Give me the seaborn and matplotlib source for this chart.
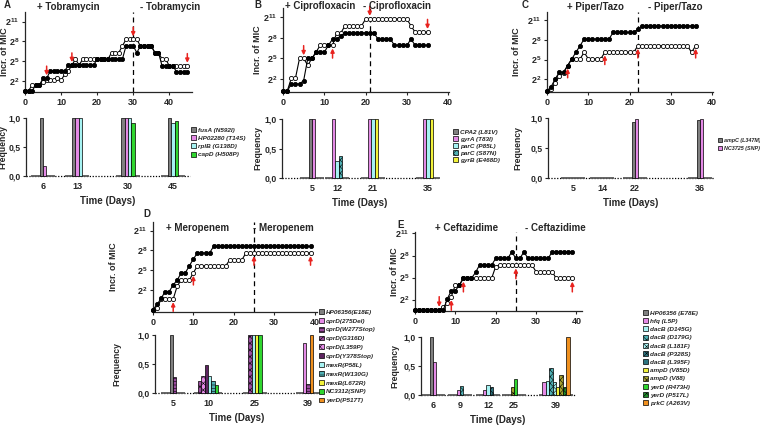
import matplotlib
matplotlib.use("Agg")
import matplotlib.pyplot as plt
from matplotlib.patches import Patch
import seaborn as sns

sns.set_style("ticks")
plt.rcParams["font.family"] = ["Liberation Sans", "DejaVu Sans"]
plt.rcParams["font.weight"] = "bold"
plt.rcParams["axes.labelweight"] = "bold"
plt.rcParams["mathtext.fontset"] = "custom"
plt.rcParams["mathtext.rm"] = "Liberation Sans:bold"
plt.rcParams["mathtext.bf"] = "Liberation Sans:bold"
plt.rcParams["mathtext.it"] = "Liberation Sans:bold:italic"
plt.rcParams["hatch.linewidth"] = 0.4

# ------------------------------------------------------------------ data
# MIC increase (log2 units) per day; filled = lineage 1, open = lineage 2
A_drug = "Tobramycin"
A_days = list(range(46))
A_filled = [0.54, 0.54, 0.54, 1.4, 1.4, 2.4, 2.4, 3.5, 3.5, 3.5, 3.5, 3.5,
            4.4, 4.4, 4.4, 4.4, 4.4, 4.4, 4.4, 4.4, 5.3, 5.3, 5.3, 5.3, 5.3,
            5.3, 5.3, 5.3, 7.3, 7.3, 7.3, 6.3, 7.3, 7.3, 7.3, 7.3, 6.3, 6.3,
            4.3, 4.3, 4.3, 4.3, 3.4, 3.4, 3.4, 3.4]
A_open = [0.54, 0.54, 1.4, 1.4, 1.4, 1.9, 2.1, 2.1, 2.1, 2.5, 2.1, 3.0, 3.5,
          4.4, 5.3, 4.4, 5.3, 5.3, 5.3, 5.3, 5.3, 5.3, 5.3, 5.3, 6.3, 6.3,
          6.3, 7.3, 8.3, 8.3, 8.3, 8.3, 7.3, 7.3, 7.3, 7.3, 6.3, 6.3, 5.3,
          5.3, 4.3, 4.3, 4.3, 4.3, 4.3, 4.3]
A_switch = 30
A_arrow_days = [6, 13, 30, 45]
A_arrow_dirs = ["down", "down", "down", "down"]
A_bar_days = [6, 13, 30, 45]
A_mutations = ["fusA (N592I)", "HP02280 (T14S)", "rplB (G138D)", "capD (H508P)"]
A_freq = [[1.0, 1.0, 1.0, 1.0],
          [0.17, 1.0, 1.0, 0.0],
          [0.0, 1.0, 1.0, 0.92],
          [0.0, 0.0, 0.92, 0.95]]

B_drug = "Ciprofloxacin"
B_days = list(range(36))
B_filled = [0.24, 0.24, 1.3, 1.3, 1.3, 1.8, 5.0, 5.0, 5.9, 5.9, 5.9, 6.9, 7.8,
            7.8, 8.3, 8.7, 8.7, 8.7, 8.7, 8.7, 8.7, 8.7, 8.7, 7.8, 7.8, 7.8,
            7.8, 6.9, 6.9, 6.9, 6.9, 7.8, 6.9, 6.9, 6.9, 6.9]
B_open = [0.24, 0.24, 2.1, 2.1, 5.0, 5.0, 4.0, 5.0, 5.9, 6.9, 6.9, 6.9, 6.9,
          8.7, 8.7, 9.7, 9.7, 9.7, 9.7, 9.7, 10.7, 10.7, 10.7, 10.7, 10.7,
          10.7, 10.7, 10.7, 10.7, 10.7, 10.7, 9.7, 8.8, 8.8, 8.8, 8.8]
B_switch = 21
B_arrow_days = [5, 12, 21, 35]
B_arrow_dirs = ["down", "up", "down", "down"]
B_bar_days = [5, 12, 21, 35]
B_mutations = ["CPA2 (L81V)", "gyrA (T83I)", "parC (P85L)", "parC (S87N)", "gyrB (E468D)"]
B_freq = [[1.0, 0.0, 0.0, 0.0],
          [1.0, 1.0, 1.0, 1.0],
          [0.0, 0.28, 1.0, 1.0],
          [0.0, 0.37, 0.0, 0.0],
          [0.0, 0.0, 1.0, 1.0]]

C_drug = "Piper/Tazo"
C_days = list(range(37))
C_filled = [0.25, 0.9, 2.1, 3.1, 3.1, 4.1, 5.1, 6.1, 7.1, 8.1, 8.1, 8.1, 8.1,
            8.1, 8.1, 8.1, 9.1, 9.1, 9.1, 9.1, 9.1, 9.1, 9.6, 10.1, 10.1,
            10.1, 10.1, 10.1, 10.1, 10.1, 10.1, 10.1, 10.1, 10.1, 10.1, 10.1,
            10.1]
C_open = [0.25, 0.5, 1.5, 2.5, 3.0, 4.1, 5.1, 5.1, 5.1, 6.1, 5.1, 5.1, 5.1,
          5.1, 6.1, 6.1, 6.1, 6.1, 6.1, 6.1, 6.1, 6.1, 7.1, 7.1, 7.1, 7.1,
          7.1, 7.1, 7.1, 7.1, 7.1, 7.1, 7.1, 7.1, 7.1, 6.1, 7.1]
C_switch = 22
C_arrow_days = [5, 14, 22, 36]
C_arrow_dirs = ["up", "up", "up", "up"]
C_bar_days = [5, 14, 22, 36]
C_mutations = ["ampC (L347M)", "NC3725 (SNP)"]
C_freq = [[0.0, 0.0, 0.93, 0.97],
          [0.0, 0.0, 0.98, 0.98]]

D_drug = "Meropenem"
D_days = list(range(40))
D_filled = [-1.0, -0.2, 0.7, 1.75, 1.75, 2.75, 3.5, 4.6, 4.6, 5.65, 6.7, 7.6,
            7.6, 7.6, 7.6, 8.6, 8.6, 8.6, 8.6, 8.6, 8.6, 8.6, 8.6, 8.6, 8.6,
            8.6, 8.6, 8.6, 8.6, 8.6, 8.6, 8.6, 8.6, 8.6, 8.6, 8.6, 8.6, 8.6,
            8.6, 8.6]
D_open = [-1.0, -0.8, 0.6, 0.6, 0.6, 0.6, 2.6, 3.5, 3.5, 3.5, 4.6, 5.65, 5.65,
          5.65, 5.65, 5.65, 5.65, 5.65, 5.65, 6.55, 6.55, 6.55, 6.55, 7.6, 7.6,
          7.6, 7.6, 7.6, 7.6, 7.6, 7.6, 7.6, 7.6, 7.6, 7.6, 7.6, 7.6, 7.6,
          7.6, 7.6]
D_switch = 25
D_arrow_days = [5, 10, 25, 39]
D_arrow_dirs = ["up", "up", "up", "up"]
D_bar_days = [5, 10, 25, 39]
D_mutations = ["HP06356(E18E)", "oprD(275Del)", "oprD(W277Stop)", "oprD(G316D)",
               "oprD(L359P)", "oprD(Y378Stop)", "mexR(P58L)", "mexR(W130G)",
               "mexB(L672R)", "NC3312(SNP)", "yerD(P517T)"]
D_freq = [[1.0, 0.0, 0.0, 0.0],
          [0.0, 0.0, 0.0, 0.86],
          [0.28, 0.0, 0.0, 0.15],
          [0.0, 0.21, 1.0, 0.0],
          [0.0, 0.30, 0.0, 0.0],
          [0.0, 0.48, 0.0, 0.0],
          [0.0, 0.29, 1.0, 0.0],
          [0.0, 0.20, 0.0, 0.0],
          [0.0, 0.0, 1.0, 0.0],
          [0.0, 0.14, 1.0, 0.0],
          [0.0, 0.0, 0.0, 1.0]]

E_drug = "Ceftazidime"
E_days = list(range(40))
E_filled = [0.55, 0.55, 0.55, 0.55, 0.55, 0.55, 0.55, 0.55, 2.1, 3.2, 3.2, 4.0,
            4.9, 4.9, 4.9, 5.7, 6.7, 6.7, 6.7, 6.7, 7.6, 7.6, 7.6, 7.6, 8.5,
            7.6, 7.6, 8.5, 7.6, 7.6, 7.6, 7.6, 7.6, 7.6, 8.5, 8.5, 8.5, 8.5,
            8.5, 8.5]
E_open = [0.55, 0.55, 0.55, 0.55, 0.55, 0.55, 0.55, 1.0, 1.5, 2.4, 4.0, 4.0,
          4.9, 4.9, 4.9, 4.9, 4.9, 4.9, 4.9, 4.9, 6.5, 6.7, 6.7, 6.7, 6.7,
          6.7, 6.7, 6.7, 6.7, 6.7, 5.8, 5.8, 5.8, 5.8, 5.8, 4.9, 4.9, 4.9,
          4.9, 4.9]
E_switch = 25
E_arrow_days = [6, 9, 12, 25, 39]
E_arrow_dirs = ["down", "up", "up", "up", "up"]
E_bar_days = [6, 9, 12, 25, 39]
E_mutations = ["HP06356 (E78E)", "hfq (L5P)", "dacB (D145G)", "dacB (D179G)",
               "dacB (L181F)", "dacB (P328S)", "dacB (L395F)", "ampD (V85D)",
               "ampD (V88)", "yerD (R473H)", "yerD (P517L)", "prkC (A263V)"]
E_freq = [[1.0, 0.0, 0.0, 0.0, 0.0],
          [0.57, 0.08, 0.08, 0.0, 0.23],
          [0.0, 0.0, 0.17, 0.0, 0.25],
          [0.0, 0.15, 0.0, 0.0, 0.47],
          [0.0, 0.0, 0.0, 0.0, 0.23],
          [0.0, 0.0, 0.13, 0.0, 0.0],
          [0.0, 0.0, 0.0, 0.0, 0.0],
          [0.0, 0.0, 0.0, 0.0, 0.14],
          [0.0, 0.0, 0.0, 0.13, 0.35],
          [0.0, 0.0, 0.0, 0.28, 0.0],
          [0.0, 0.0, 0.0, 0.0, 0.14],
          [0.0, 0.0, 0.0, 0.0, 1.0]]

# ------------------------------------------------------------------ styles
GRAY = "#808080"; PINK = "#e48ae6"; CYAN = "#a6f2f2"; GREEN = "#2fd62f"
TEAL = "#4fb0b4"; YELLOW = "#f2f23a"; ORANGE = "#f0901e"; PURPLE = "#9a4a9e"
DPURPLE = "#5e2460"; OLIVE = "#a6a22e"; DGREEN = "#1f8c2a"; DTEAL = "#2c7480"

A_styles = [(GRAY, ""), (PINK, ""), (CYAN, ""), (GREEN, "")]
B_styles = [(GRAY, ""), (PINK, ""), (CYAN, ""), (TEAL, "xxxxx"), (YELLOW, "")]
C_styles = [(GRAY, ""), (PINK, "")]
D_styles = [(GRAY, ""), (PINK, ""), (PURPLE, "-----"), (PURPLE, "xxxxx"),
            (PINK, "xxxxx"), (DPURPLE, ""), (CYAN, ""), (TEAL, "-----"),
            (YELLOW, ""), (GREEN, ""), (ORANGE, "")]
E_styles = [(GRAY, ""), (PINK, ""), (CYAN, ""), (TEAL, "xxxxx"), (CYAN, "xxxxx"),
            (DTEAL, "xxxxx"), (DTEAL, ""), (YELLOW, ""), (OLIVE, "xxxxx"),
            (GREEN, ""), (DGREEN, "xxxxx"), (ORANGE, "")]

# ------------------------------------------------------------------ layout (pixels)
W, H = 760, 425
fig = plt.figure(figsize=(W / 100, H / 100), dpi=100)


def px_axes(left, top, right, bottom):
    return fig.add_axes([left / W, 1 - bottom / H, (right - left) / W, (bottom - top) / H])


def ftext(x, y, s, **kw):
    fig.text(x / W, 1 - y / H, s, **kw)


RED = "#e8231f"


def draw_mic(ax, days, filled, opened, switch, arrow_days, arrow_dirs, xlim, ylim):
    sns.lineplot(x=days, y=opened, ax=ax, color="k", lw=0.8, marker="o", ms=3.0,
                 mfc="white", mec="k", mew=0.6, clip_on=False, zorder=3, errorbar=None)
    sns.lineplot(x=days, y=filled, ax=ax, color="k", lw=0.8, marker="o", ms=3.0,
                 mfc="k", mec="k", mew=0.6, clip_on=False, zorder=4, errorbar=None)
    ax.axvline(switch, color="k", ls=(0, (4, 3)), lw=0.9, zorder=1)
    for d, direc in zip(arrow_days, arrow_dirs):
        i = days.index(d)
        if direc == "down":
            tip = max(filled[i], opened[i]) + 0.45
            tail = tip + 1.4
        else:
            tip = min(filled[i], opened[i]) - 0.45
            tail = tip - 1.4
        ax.annotate("", xy=(d, tip), xytext=(d, tail), annotation_clip=False,
                    arrowprops=dict(arrowstyle="-|>", color=RED, lw=1.1,
                                    mutation_scale=5.5, shrinkA=0, shrinkB=0), zorder=6)
    ax.set_xlim(*xlim)
    ax.set_ylim(*ylim)
    ax.set_xticks([0, 10, 20, 30, 40])
    ax.set_xticklabels(["0", "10", "20", "30", "40"])
    ax.set_yticks([2, 5, 8, 11])
    ax.set_yticklabels([r"$\mathbf{2^{2}}$", r"$\mathbf{2^{5}}$", r"$\mathbf{2^{8}}$",
                        r"$\mathbf{2^{11}}$"])
    ax.tick_params(labelsize=6.5, length=2.5, width=0.8, pad=1.5)
    sns.despine(ax=ax)
    for s in ("left", "bottom"):
        ax.spines[s].set_linewidth(0.9)
    ax.set_xlabel("")
    ax.set_ylabel("Incr. of MIC", fontsize=6.5)


def draw_bars(ax, bar_days, freq, styles, group_px, left, right):
    wpx = right - left
    bw = 3.4 / wpx
    ax.set_xlim(0, 1)
    ax.set_ylim(0, 1.0)
    ax.axhline(0, color="k", ls=(0, (1, 1.3)), lw=0.9, zorder=1, clip_on=False)
    ticks = []
    for j, d in enumerate(bar_days):
        pos = (group_px[j] - left) / wpx
        ticks.append(pos)
        nz = [i for i in range(len(freq)) if freq[i][j] > 0]
        n = len(nz)
        half = max(7, n + 2) * bw / 2
        ax.hlines(0, pos - half, pos + half, color="#5a5a5a", lw=1.3, zorder=2, clip_on=False)
        for k, i in enumerate(nz):
            ax.bar(pos + (k - (n - 1) / 2) * bw, freq[i][j], width=bw,
                   color=styles[i][0], hatch=styles[i][1], edgecolor="k",
                   lw=0.5, zorder=3, clip_on=False)
    ax.set_xticks(ticks)
    ax.set_xticklabels([str(d) for d in bar_days])
    ax.set_yticks([0, 0.5, 1.0])
    ax.set_yticklabels(["0,0", "0,5", "1,0"])
    ax.tick_params(axis="x", length=0, labelsize=6.5, pad=4)
    ax.tick_params(axis="y", length=2.5, width=0.8, labelsize=6.2, pad=1.2)
    sns.despine(ax=ax, bottom=True)
    ax.spines["left"].set_linewidth(0.9)
    ax.set_ylabel("Frequency", fontsize=6.2)
    ax.set_xlabel("Time (Days)", fontsize=7, labelpad=4)


def legend(x, y, labels, styles, spacing, size):
    handles = [Patch(facecolor=c, edgecolor="k", hatch=h, lw=0.5) for c, h in styles]
    fig.legend(handles, labels, loc="upper left", bbox_to_anchor=(x / W, 1 - y / H),
               frameon=False, prop=dict(size=size, style="italic", weight="bold"),
               handlelength=0.8, handleheight=0.8, handletextpad=0.3,
               labelspacing=spacing, borderaxespad=0, borderpad=0)


panels = [
    dict(letter="A", lpos=(4, 5), drug=A_drug, tpos=((68, 7), (170, 7)),
         days=A_days, filled=A_filled, opened=A_open, switch=A_switch,
         adays=A_arrow_days, adirs=A_arrow_dirs, xlim=(0, 46.3), ylim=(0.33, 12.45),
         line=(25, 12, 192, 92), bar=(26, 118, 190, 176),
         bdays=A_bar_days, freq=A_freq, styles=A_styles, muts=A_mutations,
         groups=[43, 77, 128, 173], leg=(191, 127, 0.4, 4.6), ylab_x=9, flab_x=7.5),
    dict(letter="B", lpos=(254, 5), drug=B_drug, tpos=((320, 6), (397, 6)),
         days=B_days, filled=B_filled, opened=B_open, switch=B_switch,
         adays=B_arrow_days, adirs=B_arrow_dirs, xlim=(0, 40.2), ylim=(0.14, 12.3),
         line=(283, 8, 449, 92), bar=(282, 119, 438, 178),
         bdays=B_bar_days, freq=B_freq, styles=B_styles, muts=B_mutations,
         groups=[312, 337, 373, 428], leg=(453, 129, 0.22, 4.6), ylab_x=262, flab_x=262),
    dict(letter="C", lpos=(522, 5), drug=C_drug, tpos=((595, 7), (675, 7)),
         days=C_days, filled=C_filled, opened=C_open, switch=C_switch,
         adays=C_arrow_days, adirs=C_arrow_dirs, xlim=(0, 40.2), ylim=(0.1, 12.2),
         line=(547, 12, 713, 92), bar=(548, 118, 714, 178),
         bdays=C_bar_days, freq=C_freq, styles=C_styles, muts=C_mutations,
         groups=[573, 602, 635, 700], leg=(718, 138, 0.55, 3.9), ylab_x=521, flab_x=522),
    dict(letter="D", lpos=(143, 214), drug=D_drug, tpos=((198, 228), (283, 228)),
         days=D_days, filled=D_filled, opened=D_open, switch=D_switch,
         adays=D_arrow_days, adirs=D_arrow_dirs, xlim=(0, 40.6), ylim=(-1.35, 12.3),
         line=(153, 222, 317, 312), bar=(155, 335, 318, 393),
         bdays=D_bar_days, freq=D_freq, styles=D_styles, muts=D_mutations,
         groups=[173, 208, 255, 308], leg=(319, 309, 0.5, 4.6), ylab_x=118, flab_x=121),
    dict(letter="E", lpos=(397, 225), drug=E_drug, tpos=((467, 228), (555, 228)),
         days=E_days, filled=E_filled, opened=E_open, switch=E_switch,
         adays=E_arrow_days, adirs=E_arrow_dirs, xlim=(0, 41.4), ylim=(0.45, 11.2),
         line=(415, 232, 582, 311), bar=(421, 337, 575, 395),
         bdays=E_bar_days, freq=E_freq, styles=E_styles, muts=E_mutations,
         groups=[433, 460, 488, 514, 556], leg=(643, 310, 0.4, 4.6), ylab_x=399, flab_x=399),
]

for p in panels:
    l, t, r, b = p["line"]
    axl = px_axes(l, t, r, b)
    draw_mic(axl, p["days"], p["filled"], p["opened"], p["switch"], p["adays"],
             p["adirs"], p["xlim"], p["ylim"])
    axl.yaxis.set_label_coords((p["ylab_x"] - l) / (r - l), 0.5)

    bl, bt, br, bb = p["bar"]
    axb = px_axes(bl, bt, br, bb)
    draw_bars(axb, p["bdays"], p["freq"], p["styles"], p["groups"], bl, br)
    axb.yaxis.set_label_coords((p["flab_x"] - bl) / (br - bl), 0.5)

    lx, ly, sp, fs = p["leg"]
    legend(lx, ly, p["muts"], p["styles"], sp, fs)

    ftext(*p["lpos"], p["letter"], fontsize=7, ha="left", va="center")
    (x1, y1), (x2, y2) = p["tpos"]
    ftext(x1, y1, "+ " + p["drug"], fontsize=7, ha="center", va="center")
    ftext(x2, y2, "- " + p["drug"], fontsize=7, ha="center", va="center")

fig.savefig("out.png", dpi=100)
